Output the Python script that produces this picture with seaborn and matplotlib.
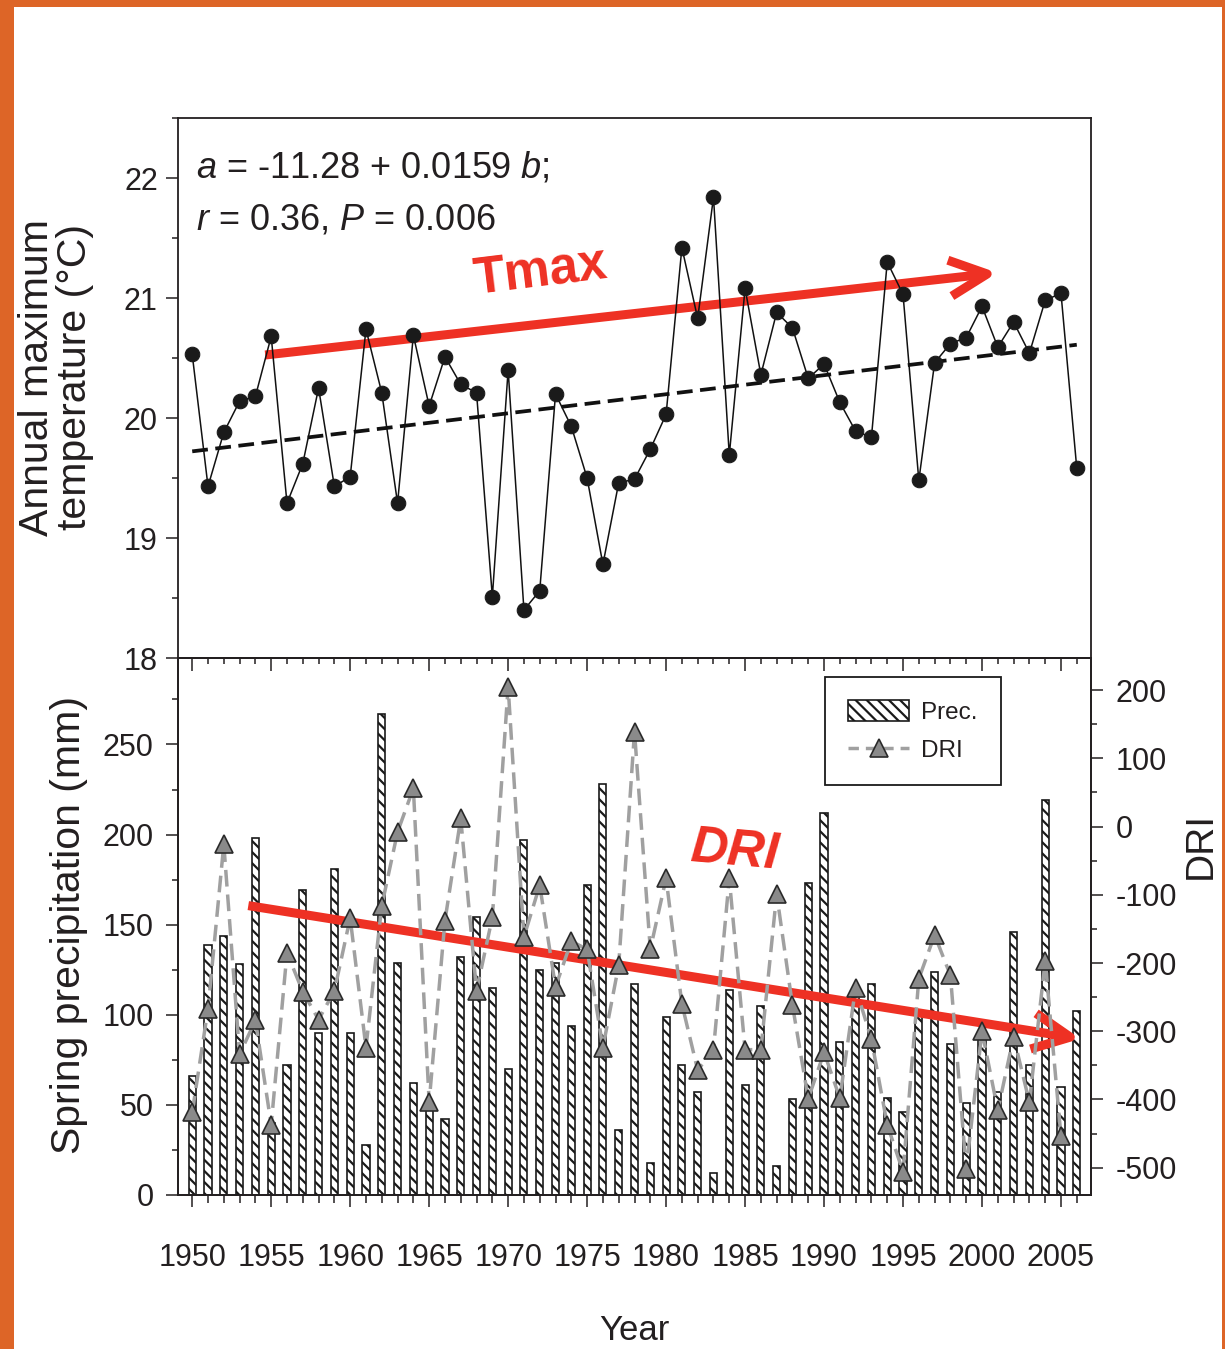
import matplotlib
matplotlib.use('Agg')
import pandas as pd
import matplotlib.pyplot as plt
import seaborn as sns
from matplotlib import font_manager
from matplotlib.patches import Patch, Rectangle, FancyArrowPatch
from matplotlib.lines import Line2D
from matplotlib.ticker import MultipleLocator

# values
YEARS = list(range(1950, 2007))
TMAX = [20.53, 19.43, 19.88, 20.14, 20.18, 20.68, 19.29, 19.62, 20.25, 19.43,
        19.51, 20.74, 20.21, 19.29, 20.69, 20.10, 20.51, 20.28, 20.21, 18.51,
        20.40, 18.40, 18.56, 20.20, 19.93, 19.50, 18.78, 19.46, 19.49, 19.74,
        20.03, 21.42, 20.83, 21.84, 19.69, 21.08, 20.36, 20.88, 20.75, 20.33,
        20.45, 20.13, 19.89, 19.84, 21.30, 21.03, 19.48, 20.46, 20.62, 20.67,
        20.93, 20.59, 20.80, 20.54, 20.98, 21.04, 19.58]
PREC = [66, 139, 144, 128, 198, 40, 72, 169, 90, 181,
        90, 28, 267, 129, 62, 48, 42, 132, 154, 115,
        70, 197, 125, 129, 94, 172, 228, 36, 117, 18,
        99, 72, 57, 12, 114, 61, 105, 16, 53, 173,
        212, 85, 110, 117, 54, 46, 100, 124, 84, 51,
        88, 57, 146, 72, 219, 60, 102]
DRI_YEARS = list(range(1950, 2006))
DRI = [-419, -267, -26, -334, -284, -437, -185, -242, -283, -241,
       -134, -324, -116, -8, 56, -404, -138, 12, -241, -133,
       205, -162, -86, -235, -168, -180, -324, -203, 139, -180,
       -76, -260, -357, -327, -76, -327, -327, -99, -262, -399,
       -331, -398, -236, -312, -437, -506, -223, -159, -218, -502,
       -300, -416, -308, -404, -197, -454]

EQ_LINE1 = r'$a$ = -11.28 + 0.0159 $b$;'
EQ_LINE2 = r'$r$ = 0.36, $P$ = 0.006'

RED = '#ee3124'
INK = '#231f20'
HATCH = '\\\\\\'

sns.set_theme(style='ticks')
_names = {f.name for f in font_manager.fontManager.ttflist}
REG = 'Liberation Sans' if 'Liberation Sans' in _names else 'DejaVu Sans'
if 'Liberation Sans Narrow' in _names:
    NUM, K = 'Liberation Sans Narrow', 1.18
else:
    NUM, K = REG, 1.0
plt.rcParams['font.family'] = [NUM, 'DejaVu Sans']
plt.rcParams['axes.unicode_minus'] = False
plt.rcParams['mathtext.fontset'] = 'custom'
plt.rcParams['mathtext.rm'] = REG
plt.rcParams['mathtext.it'] = REG + ':italic'
plt.rcParams['hatch.linewidth'] = 1.6
plt.rcParams['hatch.color'] = '#1a1a1a'

fig = plt.figure(figsize=(12.25, 13.49), dpi=100)
fig.patch.set_facecolor('#dd6527')
fig.add_artist(Rectangle((14 / 1225, 0), 1208 / 1225, 1342 / 1349,
                         transform=fig.transFigure, facecolor='white',
                         edgecolor='none', zorder=-1))

ax_t = fig.add_axes([178 / 1225, 1 - 658 / 1349, 913 / 1225, 540 / 1349])
ax_b = fig.add_axes([178 / 1225, 1 - 1195 / 1349, 913 / 1225, 537 / 1349], sharex=ax_t)


def red_arrow(ax, start, end, z):
    arr = FancyArrowPatch(start, end, arrowstyle='->,head_length=27,head_width=13',
                          mutation_scale=1, lw=6.5, color=RED, zorder=z,
                          shrinkA=0, shrinkB=0, capstyle='butt')
    ax.add_patch(arr)


# ---- top panel: Tmax
df_t = pd.DataFrame({'year': YEARS, 'tmax': TMAX})
sns.regplot(data=df_t, x='year', y='tmax', ax=ax_t, scatter=False, ci=None,
            truncate=True, line_kws=dict(color='#111111', lw=2.7, ls=(0, (4.2, 2.0))))
sns.lineplot(data=df_t, x='year', y='tmax', ax=ax_t, color='#111111', lw=1.1,
             marker='o', markersize=10.5, markerfacecolor='#1a1a1a',
             markeredgecolor='#1a1a1a', zorder=3)
red_arrow(ax_t, (1954.62, 20.525), (2000.98, 21.21), 1.5)
ax_t.text(0.3965, 0.715, 'Tmax', transform=ax_t.transAxes, color=RED,
          fontsize=37, fontweight='bold', family=REG, rotation=7,
          ha='center', va='center', rotation_mode='anchor')
ax_t.text(0.0197, 0.8907, EQ_LINE1, transform=ax_t.transAxes, fontsize=26,
          family=REG, color=INK, va='baseline', ha='left')
ax_t.text(0.0197, 0.7926, EQ_LINE2, transform=ax_t.transAxes, fontsize=26,
          family=REG, color=INK, va='baseline', ha='left')

ax_t.set_ylim(18, 22.5)
ax_t.yaxis.set_major_locator(MultipleLocator(1))
ax_t.yaxis.set_minor_locator(MultipleLocator(0.5))
ax_t.tick_params(axis='x', which='both', bottom=False, top=False, labelbottom=False)
ax_t.set_xlabel('')
ax_t.set_ylabel('Annual maximum\ntemperature (°C)', fontsize=29.5, family=REG,
                color=INK, linespacing=1.0)
ax_t.yaxis.set_label_coords(-0.092, 0.52)

# ---- bottom panel: precipitation bars + DRI
df_b = pd.DataFrame({'year': YEARS, 'prec': PREC})
sns.barplot(data=df_b, x='year', y='prec', ax=ax_b, native_scale=True, width=0.45,
            color='white', saturation=1, edgecolor='#1a1a1a', linewidth=1.2,
            hatch=HATCH, errorbar=None, zorder=2)
red_arrow(ax_b, (1953.55, 160.6), (2006.24, 86.7), 4)
ax_b.text(0.609, 0.639, 'DRI', transform=ax_b.transAxes, color=RED,
          fontsize=37, fontweight='bold', fontstyle='italic', family=REG,
          rotation=-5, ha='center', va='center', rotation_mode='anchor', zorder=5)

ax2 = ax_b.twinx()
df_d = pd.DataFrame({'year': DRI_YEARS, 'dri': DRI})
sns.lineplot(data=df_d, x='year', y='dri', ax=ax2, color='#a0a0a0', lw=2.5,
             marker='^', markersize=12.5, markerfacecolor='#8a8a8a',
             markeredgecolor='#2a2a2a', markeredgewidth=1.2)
ax2.lines[-1].set_dashes([4.8, 2.3])

ax_b.set_xlim(1949.1, 2006.9)
ax_b.set_ylim(0, 298)
ax2.set_ylim(-540, 247)
ax_b.xaxis.set_major_locator(MultipleLocator(5))
ax_b.xaxis.set_minor_locator(MultipleLocator(1))
ax_b.yaxis.set_major_locator(MultipleLocator(50))
ax_b.yaxis.set_minor_locator(MultipleLocator(25))
ax2.yaxis.set_major_locator(MultipleLocator(100))
ax2.yaxis.set_minor_locator(MultipleLocator(50))

sec = ax_b.secondary_xaxis('top')
sec.xaxis.set_major_locator(MultipleLocator(5))
sec.xaxis.set_minor_locator(MultipleLocator(1))
sec.tick_params(axis='x', which='both', direction='in', labeltop=False,
                width=1.1, color=INK)
sec.tick_params(axis='x', which='major', length=9)
sec.tick_params(axis='x', which='minor', length=4.5)
sec.spines['top'].set_linewidth(1.3)
sec.spines['top'].set_color(INK)

for ax in (ax_t, ax_b, ax2):
    ax.tick_params(which='major', length=8.5, width=1.1, color=INK,
                   labelcolor=INK, labelsize=22 * K)
    ax.tick_params(which='minor', length=4.5, width=1.1, color=INK)
    for s in ax.spines.values():
        s.set_linewidth(1.3)
        s.set_color(INK)
ax_t.tick_params(axis='y', pad=6)
ax_b.tick_params(axis='y', pad=9)
ax2.tick_params(axis='y', pad=9)
ax_b.tick_params(axis='x', which='major', labelsize=22 * K, pad=26)
ax_b.tick_params(axis='x', which='minor', length=5.5)

ax_b.set_xlabel('Year', fontsize=25 * K, color=INK)
ax_b.xaxis.set_label_coords(0.5, -0.222)
ax_b.set_ylabel('Spring precipitation (mm)', fontsize=29.5, family=REG, color=INK)
ax_b.yaxis.set_label_coords(-0.099, 0.503)
ax2.set_xlabel('')
ax2.set_ylabel('DRI', fontsize=28, family=REG, color=INK)
ax2.yaxis.set_label_coords(1.101, 0.65)

handles = [Patch(facecolor='white', edgecolor='#1a1a1a', hatch=HATCH, lw=1.2),
           Line2D([], [], color='#a0a0a0', lw=2.5, ls=(0, (3.0, 2.0)), marker='^',
                  markersize=12.5, markerfacecolor='#8a8a8a',
                  markeredgecolor='#2a2a2a', markeredgewidth=1.2)]
leg = ax2.legend(handles, ['Prec.', 'DRI'], loc='upper left',
                 bbox_to_anchor=(0.709, 0.965), fontsize=17.5 * K, frameon=True,
                 fancybox=False, edgecolor='#1a1a1a', framealpha=1,
                 borderpad=0.95, handlelength=2.5, handleheight=0.95,
                 handletextpad=0.5, labelspacing=0.6, borderaxespad=0)
leg.get_frame().set_linewidth(1.3)
for t in leg.get_texts():
    t.set_color(INK)

fig.savefig('out.png', dpi=100, facecolor=fig.get_facecolor())
